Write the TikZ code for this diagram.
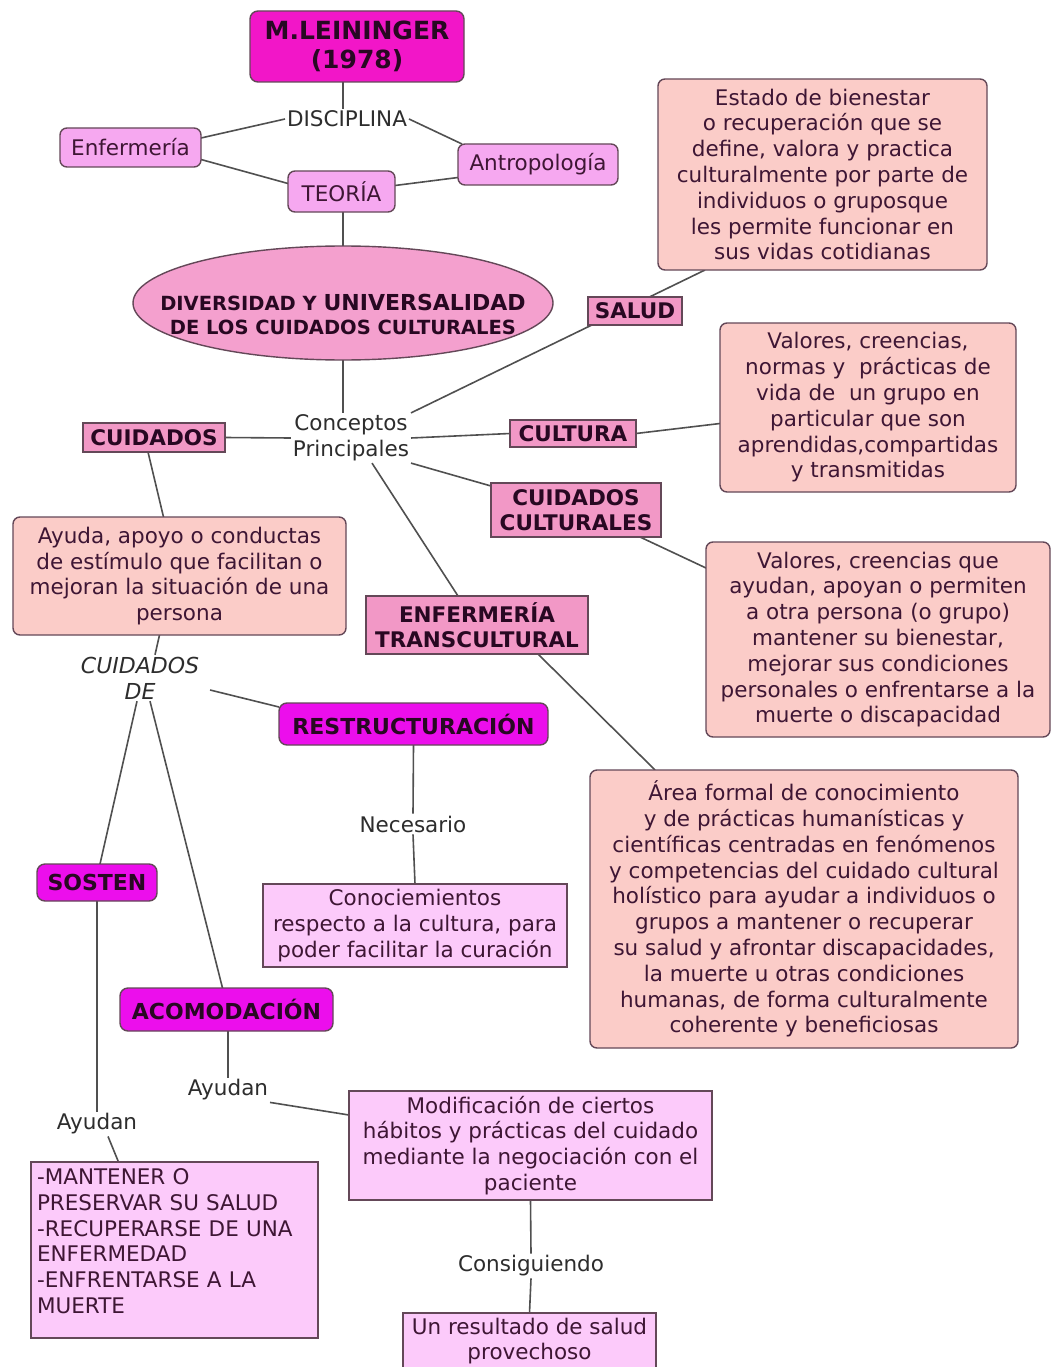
\documentclass[tikz,border=0pt]{standalone}
\usepackage{fontspec}
\setmainfont{DejaVu Sans}
\usetikzlibrary{shapes.geometric,backgrounds}
\definecolor{magA}{RGB}{242,22,200}
\definecolor{magB}{RGB}{236,14,236}
\definecolor{lil}{RGB}{246,168,240}
\definecolor{lilb}{RGB}{252,202,250}
\definecolor{elc}{RGB}{244,160,206}
\definecolor{pinkl}{RGB}{242,152,198}
\definecolor{salm}{RGB}{251,204,200}
\definecolor{bord}{RGB}{100,72,88}
\definecolor{txt}{RGB}{62,22,52}
\definecolor{dark}{RGB}{40,8,34}
\definecolor{labtxt}{RGB}{45,45,45}
\definecolor{lin}{RGB}{80,80,80}
\newcommand\regf{\fontsize{21.5}{25.8}\selectfont}
\newcommand\boldf{\fontsize{21.5}{25.5}\selectfont\bfseries}
\begin{document}
\begin{tikzpicture}[x=1pt,y=-1pt,
  every node/.style={inner sep=0pt, outer sep=0pt},
  base/.style={draw=bord, line width=1.4pt, text=txt, align=center, font=\regf},
  magt/.style={base, fill=magA, rounded corners=8pt, text=dark, font={\fontsize{25}{29}\selectfont\bfseries}},
  magb/.style={base, fill=magB, rounded corners=8pt, text=dark, font={\fontsize{22}{26}\selectfont\bfseries}},
  lilr/.style={base, fill=lil, rounded corners=7pt},
  lilbox/.style={base, fill=lilb},
  salmbox/.style={base, fill=salm, rounded corners=7pt},
  pinklab/.style={base, fill=pinkl, text=dark, font=\boldf},
  elli/.style={base, ellipse, fill=elc},
  lab/.style={text=labtxt, align=center, font=\regf, inner sep=2pt},
  conn/.style={draw=lin, line width=1.6pt}
]
\useasboundingbox (0,0) rectangle (1052,1367);
\clip (0,0) rectangle (1052,1367);

\node[magt, minimum width=214pt, minimum height=71pt] (title) at (357,46.5) {M.LEININGER\\(1978)};
\node[lab] (disc) at (347,119) {DISCIPLINA};
\node[lilr, minimum width=141pt, minimum height=39pt] (enf) at (130.5,147.5) {Enfermería};
\node[lilr, minimum width=160pt, minimum height=41pt] (antro) at (538,164.5) {Antropología};
\node[lilr, minimum width=107pt, minimum height=41pt] (teo) at (341.5,191.5) {TEORÍA};
\node[elli, minimum width=420pt, minimum height=114pt] (elli) at (343,303) {};
\node[text=dark, align=center, font={\fontsize{19.5}{24}\selectfont\bfseries}] (ellit) at (343,314)
  {DIVERSIDAD Y {\fontsize{22}{24}\selectfont UNIVERSALIDAD}\\DE LOS CUIDADOS CULTURALES};
\node[lab] (conc) at (351,438) {Conceptos\\Principales};
\node[salmbox, minimum width=329pt, minimum height=191pt] (estado) at (822.5,174.5)
  {Estado de bienestar\\o recuperación que se\\define, valora y practica\\culturalmente por parte de\\individuos o gruposque\\les permite funcionar en\\sus vidas cotidianas};
\node[pinklab, minimum width=94pt, minimum height=28pt] (salud) at (635,311) {SALUD};
\node[pinklab, minimum width=126pt, minimum height=27pt] (cult) at (573,433.5) {CULTURA};
\node[salmbox, minimum width=296pt, minimum height=169pt] (val1) at (868,407.5)
  {Valores, creencias,\\normas y \ prácticas de\\vida de \ un grupo en\\particular que son\\aprendidas,compartidas\\y transmitidas};
\node[pinklab, minimum width=170pt, minimum height=54pt] (cc) at (576,510) {CUIDADOS\\CULTURALES};
\node[salmbox, minimum width=344pt, minimum height=195pt] (val2) at (878,639.5)
  {Valores, creencias que\\ayudan, apoyan o permiten\\a otra persona (o grupo)\\mantener su bienestar,\\mejorar sus condiciones\\personales o enfrentarse a la\\muerte o discapacidad};
\node[pinklab, minimum width=222pt, minimum height=58pt] (enft) at (477,625) {ENFERMERÍA\\TRANSCULTURAL};
\node[salmbox, minimum width=428pt, minimum height=278pt] (area) at (804,909)
  {Área formal de conocimiento\\y de prácticas humanísticas y\\científicas centradas en fenómenos\\y competencias del cuidado cultural\\holístico para ayudar a individuos o\\grupos a mantener o recuperar\\su salud y afrontar discapacidades,\\la muerte u otras condiciones\\humanas, de forma culturalmente\\coherente y beneficiosas};
\node[pinklab, minimum width=142pt, minimum height=29pt] (cuid) at (154,437.5) {CUIDADOS};
\node[salmbox, minimum width=333pt, minimum height=118pt] (ayuda) at (179.5,576)
  {Ayuda, apoyo o conductas\\de estímulo que facilitan o\\mejoran la situación de una\\persona};
\node[lab, font={\fontsize{22}{26}\selectfont\itshape}] (cdde) at (140,678) {CUIDADOS\\DE};
\node[magb, minimum width=269pt, minimum height=42pt] (restr) at (413.5,724) {RESTRUCTURACIÓN};
\node[lab] (nec) at (413,824) {Necesario};
\node[lilbox, minimum width=304pt, minimum height=83pt] (conoc) at (415,925.5)
  {Conociemientos\\respecto a la cultura, para\\poder facilitar la curación};
\node[magb, minimum width=120pt, minimum height=37pt] (sost) at (97,882.5) {SOSTEN};
\node[lab] (ay1) at (97,1124) {Ayudan};
\node[magb, minimum width=213pt, minimum height=43pt] (acom) at (226.5,1009.5) {ACOMODACIÓN};
\node[lab] (ay2) at (228,1090) {Ayudan};
\node[lilbox, minimum width=363pt, minimum height=109pt] (modif) at (530.5,1145.5)
  {Modificación de ciertos\\hábitos y prácticas del cuidado\\mediante la negociación con el\\paciente};
\node[lab] (consig) at (531,1266) {Consiguiendo};
\node[lilbox, minimum width=253pt, minimum height=56pt] (unres) at (529.5,1341) {Un resultado de salud\\provechoso};
\node[lilbox, minimum width=287pt, minimum height=176pt, align=left, text width=275pt] (mant) at (174.5,1250)
  {-MANTENER O\\PRESERVAR SU SALUD\\-RECUPERARSE DE UNA\\ENFERMEDAD\\-ENFRENTARSE A LA\\MUERTE\\[-8pt]\mbox{}};

\begin{scope}[on background layer]
\fill[white] (0,0) rectangle (1052,1367);
\draw[conn] ([xshift=-14pt]title.south) -- ([xshift=-4pt]disc.north);
\draw[conn] (disc.west) -- ([yshift=9.5pt]enf.east);
\draw[conn] (disc.east) -- ([xshift=4pt]antro.north west);
\draw[conn] ([yshift=-12pt]enf.east) -- ([yshift=8pt]teo.west);
\draw[conn] ([yshift=-13pt]antro.west) -- ([yshift=6pt]teo.east);
\draw[conn] ([xshift=1.5pt]teo.south) -- (elli.north);
\draw[conn] (elli.south) -- ([xshift=-8pt]conc.north);
\draw[conn] (conc.north east) -- ([xshift=47pt]estado.south west);
\draw[conn] (conc.east) -- (cult.west);
\draw[conn] (cult.east) -- ([yshift=-16pt]val1.west);
\draw[conn] (conc.south east) -- ([yshift=-3pt]cc.north west);
\draw[conn] ([xshift=-21pt]cc.south east) -- ([yshift=-26pt]val2.north west);
\draw[conn] ([xshift=21pt]conc.south) -- ([xshift=-19pt]enft.north);
\draw[conn] ([xshift=61pt]enft.south) -- ([xshift=65pt]area.north west);
\draw[conn] (conc.west) -- (cuid.east);
\draw[conn] ([xshift=-6pt]cuid.south) -- ([xshift=-16pt]ayuda.north);
\draw[conn] ([xshift=-20pt]ayuda.south) -- ([xshift=15pt]cdde.north);
\draw[conn] ([shift={(9pt,-12pt)}]cdde.east) -- ([yshift=-4pt]restr.north west);
\draw[conn] ([xshift=-3pt]cdde.south) -- ([xshift=3pt]sost.north);
\draw[conn] ([xshift=10pt]cdde.south) -- ([xshift=-4pt]acom.north);
\draw[conn] (restr.south) -- (nec.north);
\draw[conn] (nec.south) -- (conoc.north);
\draw[conn] (sost.south) -- (ay1.north);
\draw[conn] ([xshift=11pt]ay1.south) -- ([xshift=-56pt]mant.north);
\draw[conn] ([xshift=1.5pt]acom.south) -- (ay2.north);
\draw[conn] (ay2.south east) -- ([yshift=-24pt]modif.north west);
\draw[conn] (modif.south) -- (consig.north);
\draw[conn] (consig.south) -- (unres.north);
\end{scope}
\end{tikzpicture}
\end{document}
